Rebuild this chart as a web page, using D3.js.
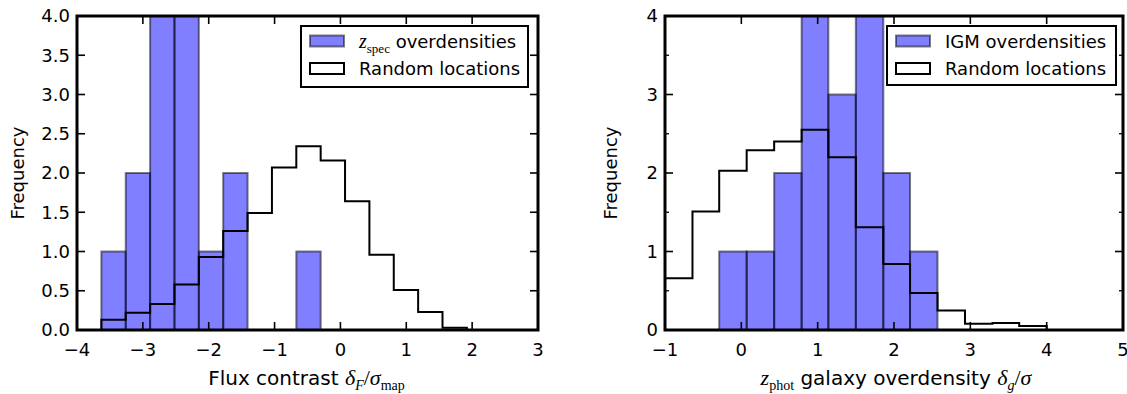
<!DOCTYPE html>
<html>
<head>
<meta charset="utf-8">
<script src="https://cdn.jsdelivr.net/npm/d3@7"></script>
<style>
  body { margin: 0; background: #fff; }
  svg text { font-family: "DejaVu Sans", sans-serif; fill: #000; }
  .math { font-family: "Liberation Serif", "DejaVu Serif", serif; }
</style>
</head>
<body>
<svg id="chart" width="1127" height="394"></svg>
<script>
// ---- data ----
// left panel: flux contrast
const leftEdges = [-3.63, -3.26, -2.89, -2.52, -2.15, -1.78, -1.41, -1.04, -0.67, -0.30, 0.07, 0.44, 0.81, 1.18, 1.55, 1.92];
const leftSpecCounts = [1, 2, 5, 5, 1, 2, 0, 0, 1];   // bins 2,3 run off the top
const leftRandom = [0.13, 0.22, 0.33, 0.58, 0.93, 1.26, 1.49, 2.07, 2.34, 2.16, 1.64, 0.96, 0.51, 0.23, 0.03];

// right panel: galaxy overdensity
const rightEdges = [-1.00, -0.64, -0.29, 0.07, 0.43, 0.79, 1.14, 1.50, 1.86, 2.21, 2.57, 2.93, 3.29, 3.64, 4.00];
const rightIgmStart = 2;   // first edge index of the IGM bars
const rightIgmCounts = [1, 1, 2, 5, 3, 5, 2, 1];
const rightRandom = [0.66, 1.51, 2.03, 2.29, 2.40, 2.55, 2.20, 1.31, 0.84, 0.47, 0.25, 0.08, 0.09, 0.05];

const leftXTicks = [-4, -3, -2, -1, 0, 1, 2, 3];
const leftYTicks = [0, 0.5, 1, 1.5, 2, 2.5, 3, 3.5, 4];
const rightXTicks = [-1, 0, 1, 2, 3, 4, 5];
const rightYTicks = [0, 1, 2, 3, 4];
const rightYMinor = [0.5, 1.5, 2.5, 3.5];

// label pieces: t = text, m = math italic, r = math roman, s = roman subscript, si = italic subscript
const leftXLabel = [['t', 'Flux contrast '], ['m', '\u03b4'], ['si', 'F'], ['r', '/'], ['m', '\u03c3'], ['s', 'map']];
const rightXLabel = [['m', 'z'], ['s', 'phot'], ['t', ' galaxy overdensity '], ['m', '\u03b4'], ['si', 'g'], ['r', '/'], ['m', '\u03c3']];
const leftLegend = [['m', 'z'], ['s', 'spec'], ['t', ' overdensities']];
const rightLegend = [['t', 'IGM overdensities']];

const svg = d3.select('#chart');

// write label pieces into a text element, keeping the baseline right after subscripts
function writeLabel(sel, pieces, size) {
  let shifted = 0;
  const sub = Math.round(size * 0.7), shift = Math.round(size * 0.27);
  pieces.forEach(([kind, str]) => {
    const sp = sel.append('tspan').text(str);
    let dy = 0;
    if (kind === 's' || kind === 'si') {
      dy = shift - shifted; shifted = shift;
      sp.attr('class', 'math').style('font-size', sub + 'px');
      if (kind === 'si') sp.style('font-style', 'italic');
    } else {
      dy = -shifted; shifted = 0;
      if (kind === 'm') sp.attr('class', 'math').style('font-style', 'italic').style('font-size', (size + 2) + 'px');
      if (kind === 'r') sp.attr('class', 'math').style('font-size', (size + 2) + 'px');
    }
    if (dy !== 0) sp.attr('dy', dy);
  });
}

function drawPanel(opts) {
  const x = d3.scaleLinear().domain(opts.xDomain).range([opts.left, opts.right]);
  const y = d3.scaleLinear().domain([0, 4]).range([opts.bottom, opts.top]);
  const g = svg.append('g');

  const clipId = 'clip-' + opts.name;
  svg.append('clipPath').attr('id', clipId)
    .append('rect')
    .attr('x', opts.left).attr('y', opts.top)
    .attr('width', opts.right - opts.left).attr('height', opts.bottom - opts.top);

  const plot = g.append('g').attr('clip-path', `url(#${clipId})`);

  // filled histogram (blue, alpha 0.5, edges black alpha 0.5)
  const bars = opts.barCounts.map((c, i) => ({
    x0: opts.edges[opts.barStart + i],
    x1: opts.edges[opts.barStart + i + 1],
    c: c
  })).filter(d => d.c > 0);

  plot.selectAll('rect.bar').data(bars).enter().append('rect')
    .attr('class', 'bar')
    .attr('x', d => x(d.x0))
    .attr('y', d => y(d.c))
    .attr('width', d => x(d.x1) - x(d.x0))
    .attr('height', d => y(0) - y(d.c))
    .style('fill', '#0000ff').style('fill-opacity', 0.5)
    .style('stroke', '#000').style('stroke-opacity', 0.5)
    .style('stroke-width', 2);

  // random locations: step outline
  const pts = [[opts.edges[0], 0]];
  opts.random.forEach((v, i) => {
    pts.push([opts.edges[i], v]);
    pts.push([opts.edges[i + 1], v]);
  });
  pts.push([opts.edges[opts.random.length], 0]);
  plot.append('path')
    .attr('d', d3.line().x(d => x(d[0])).y(d => y(d[1]))(pts))
    .style('fill', 'none').style('stroke', '#000').style('stroke-width', 2)
    .style('stroke-linejoin', 'miter');

  // ticks (inward, all four sides)
  const tickG = g.append('g').style('stroke', '#000');
  opts.xTicks.forEach(t => {
    tickG.append('line').attr('x1', x(t)).attr('x2', x(t)).attr('y1', opts.bottom).attr('y2', opts.bottom - 8).style('stroke-width', 1.6);
    tickG.append('line').attr('x1', x(t)).attr('x2', x(t)).attr('y1', opts.top).attr('y2', opts.top + 8).style('stroke-width', 1.6);
  });
  opts.yTicks.forEach(t => {
    tickG.append('line').attr('y1', y(t)).attr('y2', y(t)).attr('x1', opts.left).attr('x2', opts.left + 8).style('stroke-width', 1.6);
    tickG.append('line').attr('y1', y(t)).attr('y2', y(t)).attr('x1', opts.right).attr('x2', opts.right - 8).style('stroke-width', 1.6);
  });
  (opts.yMinor || []).forEach(t => {
    tickG.append('line').attr('y1', y(t)).attr('y2', y(t)).attr('x1', opts.left).attr('x2', opts.left + 4).style('stroke-width', 1.3);
    tickG.append('line').attr('y1', y(t)).attr('y2', y(t)).attr('x1', opts.right).attr('x2', opts.right - 4).style('stroke-width', 1.3);
  });

  // frame
  g.append('rect')
    .attr('x', opts.left).attr('y', opts.top)
    .attr('width', opts.right - opts.left).attr('height', opts.bottom - opts.top)
    .style('fill', 'none').style('stroke', '#000').style('stroke-width', 3);

  // tick labels
  const fmtMinus = v => String(v).replace('-', '\u2212');
  g.selectAll('text.xt').data(opts.xTicks).enter().append('text')
    .attr('x', d => x(d)).attr('y', opts.bottom + 26)
    .attr('text-anchor', 'middle')
    .style('font-size', '18px')
    .text(fmtMinus);
  g.selectAll('text.yt').data(opts.yTicks).enter().append('text')
    .attr('x', opts.left - 7).attr('y', d => y(d))
    .attr('dy', '0.36em')
    .attr('text-anchor', 'end')
    .style('font-size', '18px')
    .text(d => opts.yFormat(d));

  // y label
  g.append('text')
    .attr('transform', `translate(${opts.yLabelX},${(opts.top + opts.bottom) / 2}) rotate(-90)`)
    .attr('text-anchor', 'middle')
    .style('font-size', '18px')
    .text('Frequency');

  // x label
  const xl = g.append('text')
    .attr('x', (opts.left + opts.right) / 2 + opts.xLabelDx).attr('y', 385)
    .attr('text-anchor', 'middle')
    .style('font-size', '20px');
  writeLabel(xl, opts.xLabel, 20);

  // legend
  const lg = g.append('g');
  lg.append('rect')
    .attr('x', opts.legend.x).attr('y', 26)
    .attr('width', opts.legend.w).attr('height', opts.legend.h)
    .style('fill', '#fff').style('stroke', '#000').style('stroke-width', 2);
  const px = opts.legend.x + 9;
  lg.append('rect').attr('x', px).attr('y', 35.5).attr('width', 34).attr('height', 11)
    .style('fill', '#0000ff').style('fill-opacity', 0.5)
    .style('stroke', '#000').style('stroke-opacity', 0.5).style('stroke-width', 2);
  lg.append('rect').attr('x', px).attr('y', 63).attr('width', 34).attr('height', 11)
    .style('fill', '#fff').style('stroke', '#000').style('stroke-width', 2);
  const t1 = lg.append('text').attr('x', px + 49).attr('y', 47.5).style('font-size', '18px');
  writeLabel(t1, opts.legendLabel, 18);
  lg.append('text').attr('x', px + 49).attr('y', 75).style('font-size', '18px').text('Random locations');
}

drawPanel({
  name: 'left',
  left: 77, right: 538, top: 16, bottom: 330,
  xDomain: [-4, 3],
  edges: leftEdges, barStart: 0, barCounts: leftSpecCounts, random: leftRandom,
  xTicks: leftXTicks, yTicks: leftYTicks,
  yFormat: d => d.toFixed(1),
  yLabelX: 24,
  xLabel: leftXLabel, xLabelDx: -1,
  legend: { x: 301, w: 227, h: 61 },
  legendLabel: leftLegend
});

drawPanel({
  name: 'right',
  left: 665, right: 1123, top: 16, bottom: 330,
  xDomain: [-1, 5],
  edges: rightEdges, barStart: rightIgmStart, barCounts: rightIgmCounts, random: rightRandom,
  xTicks: rightXTicks, yTicks: rightYTicks, yMinor: rightYMinor,
  yFormat: d => String(d),
  yLabelX: 617,
  xLabel: rightXLabel, xLabelDx: 2,
  legend: { x: 887, w: 229, h: 59 },
  legendLabel: rightLegend
});
</script>
</body>
</html>
